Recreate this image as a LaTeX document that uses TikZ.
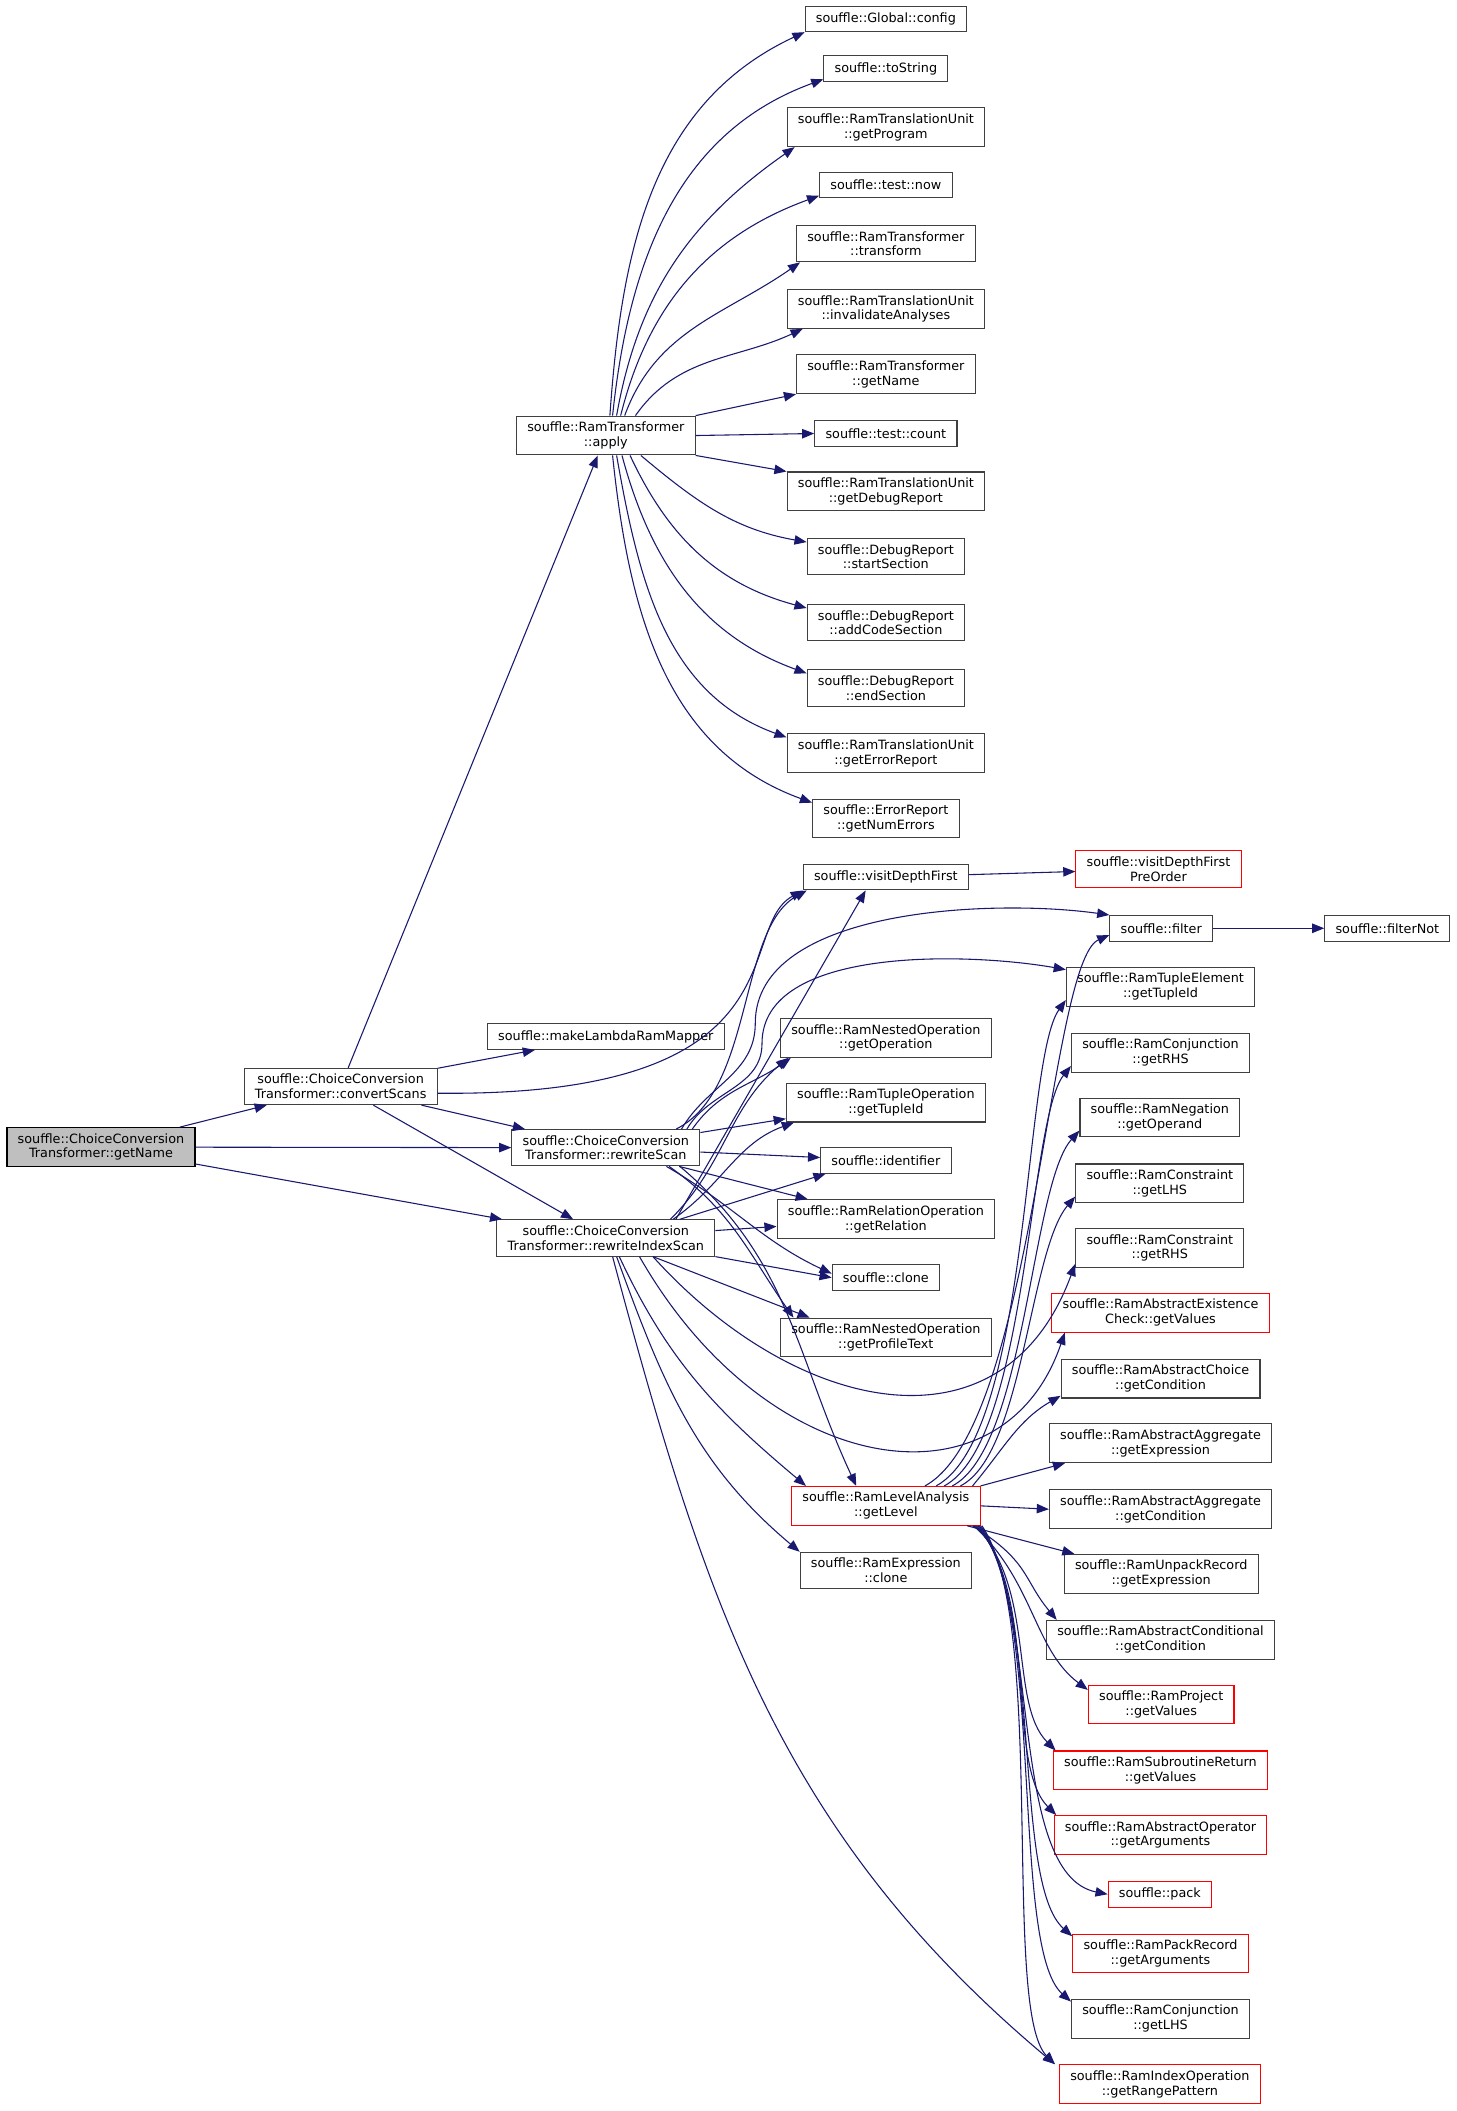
\documentclass[tikz,border=0pt]{standalone}
\usepackage{fontspec}
\setmainfont{DejaVu Sans}
\usetikzlibrary{arrows.meta}
\definecolor{edge}{RGB}{25,25,112}
\definecolor{frame}{RGB}{64,64,64}
\definecolor{ext}{RGB}{255,0,0}
\definecolor{curfill}{RGB}{191,191,191}

\begin{document}
\begin{tikzpicture}[
      x=1pt, y=1pt,
      fn/.style={draw=frame, line width=0.8pt, fill=white, align=center,
        font=\fontsize{9.5}{11}\selectfont,
        inner xsep=8pt, inner ysep=4.3pt, minimum height=19pt},
      extfn/.style={fn, draw=ext},
      cur/.style={fn, draw=black, fill=curfill},
      call/.style={-{Triangle[length=9pt,width=7pt]}, edge, line width=0.8pt}
    ]
      \fill[white] (0,0) rectangle (1082,-1568);
      \useasboundingbox (0,0) rectangle (1082,-1568);

      % callers
      \node[cur] (getname) at (75,-852) {souffle::ChoiceConversion\\Transformer::getName};
      \node[fn] (convscans) at (253,-807) {souffle::ChoiceConversion\\Transformer::convertScans};
      \node[fn] (rwscan) at (450,-852.5) {souffle::ChoiceConversion\\Transformer::rewriteScan};
      \node[fn] (rwidx) at (450,-919.5) {souffle::ChoiceConversion\\Transformer::rewriteIndexScan};
      \node[fn] (apply) at (450,-323.5) {souffle::RamTransformer\\::apply};
      \node[fn] (mklambda) at (450,-770) {souffle::makeLambdaRamMapper};

      % middle column
      \node[fn] (gconfig) at (658,-14) {souffle::Global::config};
      \node[fn] (tostr) at (658,-51) {souffle::toString};
      \node[fn] (getprog) at (658,-94.5) {souffle::RamTranslationUnit\\::getProgram};
      \node[fn] (now) at (658,-137.5) {souffle::test::now};
      \node[fn] (transform) at (658,-181) {souffle::RamTransformer\\::transform};
      \node[fn] (invalid) at (658,-229.5) {souffle::RamTranslationUnit\\::invalidateAnalyses};
      \node[fn] (rtgetname) at (658,-278) {souffle::RamTransformer\\::getName};
      \node[fn] (count) at (658,-322) {souffle::test::count};
      \node[fn] (dbgrep) at (658,-365) {souffle::RamTranslationUnit\\::getDebugReport};
      \node[fn] (startsec) at (658,-413.5) {souffle::DebugReport\\::startSection};
      \node[fn] (addcode) at (658,-462.5) {souffle::DebugReport\\::addCodeSection};
      \node[fn] (endsec) at (658,-511) {souffle::DebugReport\\::endSection};
      \node[fn] (errrep) at (658,-559.5) {souffle::RamTranslationUnit\\::getErrorReport};
      \node[fn] (numerr) at (658,-608) {souffle::ErrorReport\\::getNumErrors};
      \node[fn] (vdf) at (658,-651.5) {souffle::visitDepthFirst};
      \node[fn] (getop) at (658,-771) {souffle::RamNestedOperation\\::getOperation};
      \node[fn] (tupopid) at (658,-819) {souffle::RamTupleOperation\\::getTupleId};
      \node[fn] (ident) at (658,-862) {souffle::identifier};
      \node[fn] (getrel) at (658,-905.5) {souffle::RamRelationOperation\\::getRelation};
      \node[fn] (clone) at (658,-949) {souffle::clone};
      \node[fn] (proftext) at (658,-993.5) {souffle::RamNestedOperation\\::getProfileText};
      \node[extfn] (getlevel) at (658,-1118.5) {souffle::RamLevelAnalysis\\::getLevel};
      \node[fn] (exprclone) at (658,-1166.5) {souffle::RamExpression\\::clone};

      % right column
      \node[extfn] (vdfpre) at (860.5,-645.5) {souffle::visitDepthFirst\\PreOrder};
      \node[fn] (filter) at (862.5,-689.5) {souffle::filter};
      \node[fn] (filternot) at (1030.5,-689.5) {souffle::filterNot};
      \node[fn] (tupelem) at (862,-733) {souffle::RamTupleElement\\::getTupleId};
      \node[fn] (conjrhs) at (862,-782) {souffle::RamConjunction\\::getRHS};
      \node[fn] (negop) at (861.5,-830) {souffle::RamNegation\\::getOperand};
      \node[fn] (conslhs) at (861.5,-879) {souffle::RamConstraint\\::getLHS};
      \node[fn] (consrhs) at (861.5,-927) {souffle::RamConstraint\\::getRHS};
      \node[extfn] (existchk) at (862,-975) {souffle::RamAbstractExistence\\Check::getValues};
      \node[fn] (choicecond) at (862,-1024) {souffle::RamAbstractChoice\\::getCondition};
      \node[fn] (aggexpr) at (862,-1072) {souffle::RamAbstractAggregate\\::getExpression};
      \node[fn] (aggcond) at (862,-1121) {souffle::RamAbstractAggregate\\::getCondition};
      \node[fn] (unpack) at (862.5,-1169) {souffle::RamUnpackRecord\\::getExpression};
      \node[fn] (condcond) at (862,-1218) {souffle::RamAbstractConditional\\::getCondition};
      \node[extfn] (project) at (862.5,-1266) {souffle::RamProject\\::getValues};
      \node[extfn] (subret) at (862,-1315) {souffle::RamSubroutineReturn\\::getValues};
      \node[extfn] (absop) at (862,-1363) {souffle::RamAbstractOperator\\::getArguments};
      \node[extfn] (pack) at (861.5,-1407) {souffle::pack};
      \node[extfn] (packrec) at (862,-1451) {souffle::RamPackRecord\\::getArguments};
      \node[fn] (conjlhs) at (862,-1499.5) {souffle::RamConjunction\\::getLHS};
      \node[extfn] (rangepat) at (861.5,-1548) {souffle::RamIndexOperation\\::getRangePattern};

      % getName
      \draw[call] (getname) -- (convscans);
      \draw[call] (getname) -- (rwscan);
      \draw[call] (getname) -- (rwidx);

      % convertScans
      \draw[call] (convscans) -- (apply);
      \draw[call] (convscans) -- (mklambda);
      \draw[call] (convscans) -- (rwscan);
      \draw[call] (convscans) -- (rwidx);
      \draw[call] ([yshift=-5]convscans.east) .. controls (600,-815) and (545,-690) .. (vdf.south west);

      % apply
      \draw[call] ([xshift=3]apply.north) to[out=86,in=205] (gconfig.south west);
      \draw[call] ([xshift=5]apply.north) to[out=84,in=200] ([yshift=2]tostr.south west);
      \draw[call] ([xshift=8]apply.north) to[out=80,in=215] ([xshift=6]getprog.south west);
      \draw[call] ([xshift=11]apply.north) to[out=76,in=200] ([yshift=2]now.south west);
      \draw[call] ([xshift=14]apply.north) to[out=70,in=215] ([xshift=3]transform.south west);
      \draw[call] ([xshift=22]apply.north) to[out=55,in=205] ([xshift=12]invalid.south west);
      \draw[call] (apply.north east) -- (rtgetname.south west);
      \draw[call] (apply.east) -- (count.west);
      \draw[call] (apply.south east) -- (dbgrep.north west);
      \draw[call] ([xshift=26]apply.south) to[out=-40,in=170] ([yshift=-3]startsec.north west);
      \draw[call] ([xshift=18]apply.south) to[out=-65,in=165] ([yshift=-3]addcode.north west);
      \draw[call] ([xshift=12]apply.south) to[out=-75,in=160] ([yshift=-3]endsec.north west);
      \draw[call] ([xshift=8]apply.south) to[out=-80,in=160] ([yshift=-3]errrep.north west);
      \draw[call] ([xshift=5]apply.south) to[out=-84,in=160] ([yshift=-3]numerr.north west);

      % rewriteScan
      \draw[call] ([xshift=-18]rwscan.north east) .. controls (560,-810) and (548,-690) .. ([xshift=3]vdf.south west);
      \draw[call] ([xshift=-14]rwscan.north east) to[out=60,in=-90] (561,-760) to[out=90,in=172,looseness=0.8] (filter.north west);
      \draw[call] ([xshift=-10]rwscan.north east) to[out=60,in=-90] (566,-775) to[out=90,in=170,looseness=0.8] ([yshift=-2]tupelem.north west);
      \draw[call] ([xshift=-6]rwscan.north east) to[out=55,in=215] ([xshift=8]getop.south west);
      \draw[call] (rwscan) -- (tupopid);
      \draw[call] (rwscan) -- (ident);
      \draw[call] (rwscan) -- (getrel);
      \draw[call] ([xshift=45]rwscan.south) to[out=-30,in=155] ([yshift=3]clone.west);
      \draw[call] ([xshift=47]rwscan.south) to[out=-35,in=125] ([xshift=10]proftext.north west);
      \draw[call] ([xshift=55]rwscan.south) to[out=-40,in=115] ([xshift=-22]getlevel.north);

      % rewriteIndexScan
      \draw[call] ([xshift=52]rwidx.north) -- ([xshift=-15]vdf.south);
      \draw[call] ([xshift=48]rwidx.north) to[out=45,in=220] ([xshift=6]getop.south west);
      \draw[call] ([xshift=50]rwidx.north) to[out=35,in=200] ([xshift=6]tupopid.south west);
      \draw[call] ([xshift=55]rwidx.north) -- ([xshift=4]ident.south west);
      \draw[call] (rwidx) -- (getrel);
      \draw[call] (rwidx.south east) -- (clone.west);
      \draw[call] ([xshift=35]rwidx.south) -- ([xshift=22]proftext.north west);
      \draw[call] ([xshift=10]rwidx.south) to[out=-65,in=140] ([xshift=11]getlevel.north west);
      \draw[call] ([xshift=8]rwidx.south) to[out=-70,in=140] (exprclone.north west);
      \draw[call] ([xshift=5]rwidx.south) to[out=-75,in=140] ([xshift=-3]rangepat.north west);
      \draw[call] ([xshift=35]rwidx.south) .. controls (590,-1050) and (745,-1085) .. ([yshift=3]consrhs.south west);
      \draw[call] ([xshift=25]rwidx.south) .. controls (570,-1100) and (745,-1125) .. ([xshift=10]existchk.south west);

      % visitDepthFirst, filter
      \draw[call] (vdf) -- (vdfpre);
      \draw[call] (filter) -- (filternot);

      % getLevel
      \draw[call] ([xshift=29]getlevel.north) .. controls (768,-1060) and +(-45,-20) .. ([yshift=-5]filter.west);
      \draw[call] ([xshift=-33]getlevel.north east) .. controls (766,-1065) and +(-32,-45) .. ([yshift=5]tupelem.south west);
      \draw[call] ([xshift=-27]getlevel.north east) .. controls (764,-1070) and +(-32,-40) .. ([yshift=5]conjrhs.south west);
      \draw[call] ([xshift=-21]getlevel.north east) .. controls (762,-1075) and +(-36,-40) .. ([yshift=5]negop.south west);
      \draw[call] ([xshift=-15]getlevel.north east) .. controls (760,-1080) and +(-34,-40) .. ([yshift=5]conslhs.south west);
      \draw[call] ([xshift=-6]getlevel.north east) to[out=50,in=210] ([yshift=2]choicecond.south west);
      \draw[call] (getlevel.north east) -- ([xshift=12]aggexpr.south west);
      \draw[call] (getlevel.east) -- (aggcond.west);
      \draw[call] ([xshift=-10]getlevel.south east) -- ([xshift=8]unpack.north west);
      \draw[call] ([xshift=-6]getlevel.south east) .. controls (765,-1160) and +(-25,30) .. ([xshift=8]condcond.north west);
      \draw[call] ([xshift=-5]getlevel.south east) .. controls (768,-1175) and +(-40,30) .. ([yshift=-4]project.north west);
      \draw[call] ([xshift=-4]getlevel.south east) .. controls (770,-1180) and +(-35,35) .. ([xshift=2]subret.north west);
      \draw[call] ([xshift=-3]getlevel.south east) .. controls (772,-1185) and +(-38,38) .. ([xshift=2]absop.north west);
      \draw[call] ([xshift=-2]getlevel.south east) .. controls (774,-1190) and +(-75,15) .. (pack.west);
      \draw[call] ([xshift=-1]getlevel.south east) .. controls (775,-1195) and +(-45,40) .. ([yshift=-2]packrec.north west);
      \draw[call] (getlevel.south east) .. controls (776,-1200) and +(-45,40) .. ([yshift=-2]conjlhs.north west);
      \draw[call] ([xshift=1]getlevel.south east) .. controls (778,-1205) and +(-40,40) .. ([xshift=-3]rangepat.north west);
    \end{tikzpicture}
\end{document}
